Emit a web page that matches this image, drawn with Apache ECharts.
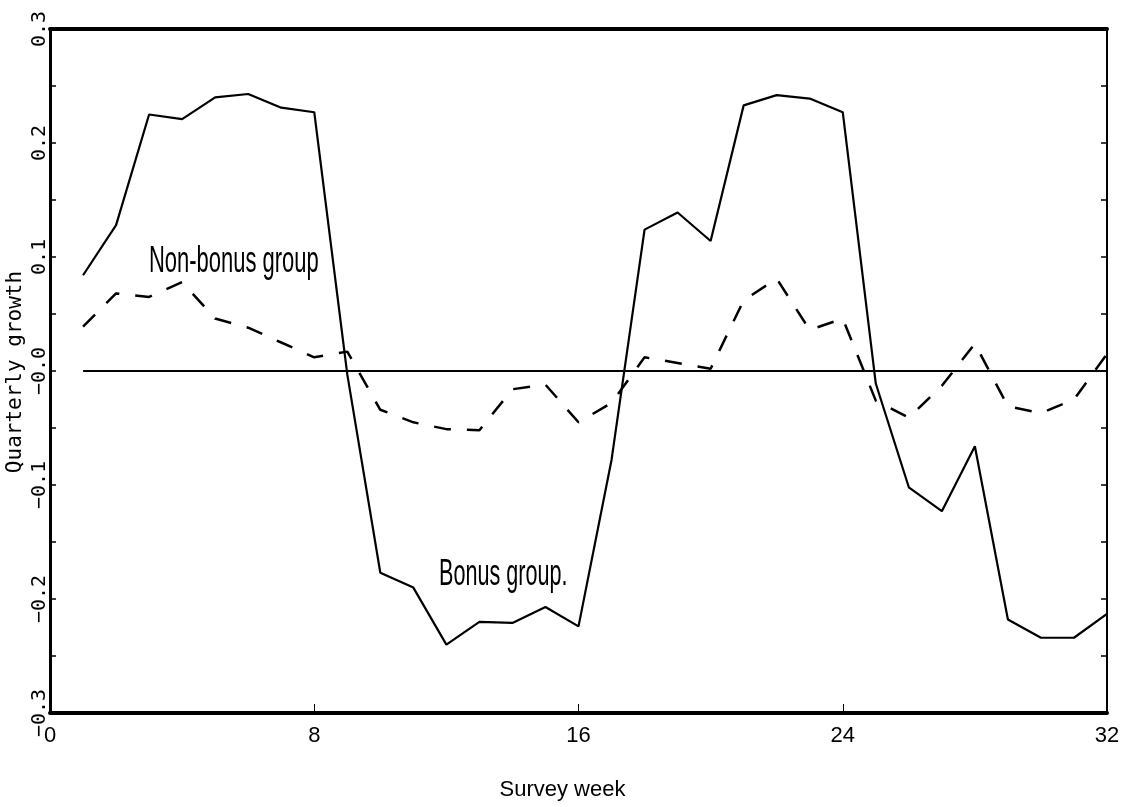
<!DOCTYPE html>
<html>
<head>
<meta charset="utf-8">
<script src="https://cdn.jsdelivr.net/npm/echarts@6/dist/echarts.min.js"></script>
<style>
  html, body { margin: 0; padding: 0; background: #fff; }
  #main { width: 1121px; height: 807px; }
</style>
</head>
<body>
<div id="main"></div>
<script>
// survey weeks
var weeks = [1, 2, 3, 4, 5, 6, 7, 8, 9, 10, 11, 12, 13, 14, 15, 16,
             17, 18, 19, 20, 21, 22, 23, 24, 25, 26, 27, 28, 29, 30, 31, 32];
// bonus group (solid)
var bonus = [0.084, 0.128, 0.225, 0.221, 0.240, 0.243, 0.231, 0.227,
             -0.003, -0.177, -0.190, -0.240, -0.220, -0.221, -0.207, -0.224,
             -0.078, 0.124, 0.139, 0.114, 0.233, 0.242, 0.239, 0.227,
             -0.011, -0.102, -0.123, -0.066, -0.218, -0.234, -0.234, -0.213];
// non-bonus group (dashed)
var nonBonus = [0.039, 0.068, 0.065, 0.078, 0.046, 0.038, 0.025, 0.012,
                0.017, -0.034, -0.045, -0.051, -0.052, -0.016, -0.012, -0.045,
                -0.028, 0.012, 0.007, 0.002, 0.062, 0.081, 0.036, 0.046,
                -0.026, -0.041, -0.013, 0.024, -0.031, -0.037, -0.025, 0.015];
var yTickLabels = ['\u22120.3', '\u22120.2', '\u22120.1', '\u22120.0', '0.1', '0.2', '0.3'];

function pairs(xs, ys) {
    var out = [];
    xs.forEach(function (x, i) { out.push([x, ys[i]]); });
    return out;
}

var narrow = "'Liberation Sans Narrow', 'Liberation Sans', sans-serif";
var mono = "'DejaVu Sans Mono', monospace";

var chart = echarts.init(document.getElementById('main'), null, { renderer: 'canvas' });
var option = {
    animation: false,
    backgroundColor: '#fff',
    grid: { left: 50, right: 14, top: 29, bottom: 94, containLabel: false, outerBoundsMode: 'none' },
    xAxis: [{
        type: 'value', position: 'bottom', min: 0, max: 32, interval: 8,
        name: 'Survey week', nameLocation: 'middle', nameGap: 66,
        nameTextStyle: { fontFamily: narrow, fontSize: 22, color: '#000', padding: [0, 32, 0, 0] },
        axisLine: { onZero: false, lineStyle: { color: '#000', width: 4 } },
        axisTick: { inside: true, length: 9, lineStyle: { color: '#000', width: 1 } },
        axisLabel: { margin: 12, fontFamily: narrow, fontSize: 22, color: '#000' },
        splitLine: { show: false }
    }, {
        type: 'value', position: 'top', min: 0, max: 32,
        axisLine: { onZero: false, lineStyle: { color: '#000', width: 4 } },
        axisTick: { show: false }, axisLabel: { show: false }, splitLine: { show: false }
    }],
    yAxis: [{
        type: 'value', position: 'left', min: -0.3, max: 0.3, interval: 0.1,
        axisLine: { onZero: false, lineStyle: { color: '#000', width: 3 } },
        axisTick: { inside: true, length: 6, lineStyle: { color: '#000', width: 1.5 } },
        minorTick: { show: true, splitNumber: 2, length: 6, lineStyle: { color: '#000', width: 1.5 } },
        axisLabel: {
            rotate: 90, margin: 0, fontFamily: mono, fontSize: 20, color: '#000',
            formatter: function (v) { return yTickLabels[Math.round(v * 10) + 3]; }
        },
        splitLine: { show: false }
    }, {
        type: 'value', position: 'right', min: -0.3, max: 0.3, interval: 0.1,
        axisLine: { onZero: false, lineStyle: { color: '#000', width: 2 } },
        axisTick: { inside: true, length: 6, lineStyle: { color: '#000', width: 1.5 } },
        minorTick: { show: true, splitNumber: 2, length: 6, lineStyle: { color: '#000', width: 1.5 } },
        axisLabel: { show: false }, splitLine: { show: false }
    }],
    series: [{
        name: 'zero', type: 'line', symbol: 'none', silent: true,
        data: [[weeks[0], 0], [weeks[weeks.length - 1], 0]],
        lineStyle: { color: '#000', width: 2 }
    }, {
        name: 'Bonus group', type: 'line', symbol: 'none',
        data: pairs(weeks, bonus),
        lineStyle: { color: '#000', width: 2.2 }
    }, {
        name: 'Non-bonus group', type: 'line', symbol: 'none',
        data: pairs(weeks, nonBonus),
        lineStyle: { color: '#000', width: 2.5, type: [17, 16] }
    }],
    graphic: [{
        // y axis title
        type: 'text', x: 16, y: 372, rotation: Math.PI / 2,
        style: { text: 'Quarterly growth', font: '21px ' + mono, fill: '#000', align: 'center', verticalAlign: 'middle' }
    }, {
        type: 'text', left: 149, top: 244, scaleX: 0.61,
        style: { text: 'Non-bonus group', font: '36px ' + narrow, fill: '#000' }
    }, {
        type: 'text', left: 439, top: 557, scaleX: 0.6,
        style: { text: 'Bonus group.', font: '36px ' + narrow, fill: '#000' }
    }]
};
chart.setOption(option);
</script>
</body>
</html>
